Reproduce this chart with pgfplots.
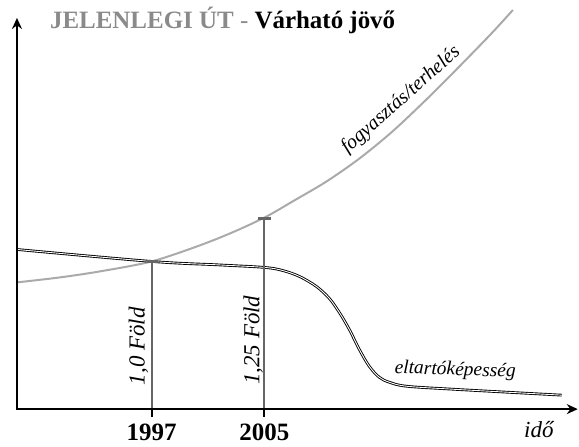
\documentclass[border=0pt]{standalone}
\usepackage{pgfplots}
\pgfplotsset{compat=1.18}
\usepackage{fontspec}
\setmainfont{Liberation Serif}
\usetikzlibrary{arrows.meta}
\definecolor{curvegray}{HTML}{AAAAAA}
\definecolor{vgray}{HTML}{666666}
\definecolor{titlegray}{HTML}{8A8A8A}
\begin{document}
\begin{tikzpicture}
\begin{axis}[
  width=579pt, height=447pt, scale only axis,
  xmin=0, xmax=579, ymin=0, ymax=447, y dir=reverse,
  hide axis, clip=false,
]
\path (axis cs:0,0) (axis cs:579,447);
% consumption curve
\addplot[curvegray, line width=2pt, smooth] coordinates {
(17,283) (60,278) (100,272) (152,262) (200,246) (235,232) (267,217) (293,202)
(327,182) (360,159) (393,132) (427,100) (460,67) (493,33) (514,10)};
% carrying capacity (double line)
\addplot[black, line width=0.9pt, double=white, double distance=0.9pt, smooth, tension=0.55] coordinates {
(17,250) (152,262) (220,265.5) (265,268) (283,271) (300,277) (317,287) (330,299) (340,313)
(350,330) (360,350) (370,367) (380,378) (390,383) (407,387) (453,390) (563,396)};
% vertical lines
\addplot[vgray, line width=2pt] coordinates {(152,262) (152,410)};
\addplot[vgray, line width=2pt] coordinates {(265,219) (265,410)};
\addplot[vgray, line width=2.5pt] coordinates {(147,262) (158,262)};
\addplot[vgray, line width=2.5pt] coordinates {(259,219) (272,219)};
% axes
\draw[line width=2.5pt, -{Stealth[length=11pt,width=10pt]}] (axis cs:17,410) -- (axis cs:17,18);
\draw[line width=2.5pt, -{Stealth[length=11pt,width=10pt]}] (axis cs:16,410) -- (axis cs:579,410);
\draw[line width=2pt] (axis cs:152,410) -- (axis cs:152,418);
\draw[line width=2pt] (axis cs:265,410) -- (axis cs:265,418);
% texts
\node[anchor=base west, inner sep=0pt] at (axis cs:50,29)
  {\fontsize{25}{27}\selectfont\textcolor{titlegray}{\bfseries JELENLEGI ÚT} \textcolor{titlegray}{-} \bfseries Várható jövő};
\node[anchor=base, inner sep=0pt] at (axis cs:152,441) {\fontsize{25}{26}\selectfont\bfseries 1997};
\node[anchor=base, inner sep=0pt] at (axis cs:265,441) {\fontsize{25}{26}\selectfont\bfseries 2005};
\node[anchor=base, inner sep=0pt] at (axis cs:540,438) {\fontsize{23}{24}\selectfont\itshape idő};
\node[anchor=base, inner sep=0pt, rotate=90] at (axis cs:145,347) {\fontsize{23}{24}\selectfont\itshape 1,0 Föld};
\node[anchor=base, inner sep=0pt, rotate=90] at (axis cs:260,341) {\fontsize{23}{24}\selectfont\itshape 1,25 Föld};
\node[anchor=base, inner sep=0pt, rotate=41.5] at (axis cs:405,104) {\fontsize{20}{22}\selectfont\itshape fogyasztás/terhelés};
\node[anchor=base, inner sep=0pt, rotate=-2] at (axis cs:456,376) {\fontsize{19.5}{22}\selectfont\itshape eltartóképesség};
\end{axis}
\end{tikzpicture}
\end{document}
